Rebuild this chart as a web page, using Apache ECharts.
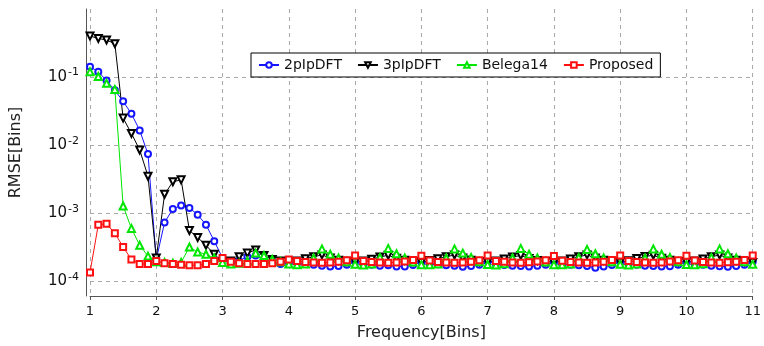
<!DOCTYPE html>
<html style="height: 100%">
<head>
	<meta charset="utf-8">
</head>
<body style="height: 100%; margin: 0; background: #fff">
<div id="container" style="width: 764px; height: 346px"></div>
<script type="text/javascript" src="https://cdn.jsdelivr.net/npm/echarts@6/dist/echarts.min.js"></script>
<script type="text/javascript">
    // frequency grid [bins]
    var freqs = [
        1, 1.125, 1.25, 1.375, 1.5, 1.625, 1.75, 1.875,
        2, 2.125, 2.25, 2.375, 2.5, 2.625, 2.75, 2.875,
        3, 3.125, 3.25, 3.375, 3.5, 3.625, 3.75, 3.875,
        4, 4.125, 4.25, 4.375, 4.5, 4.625, 4.75, 4.875,
        5, 5.125, 5.25, 5.375, 5.5, 5.625, 5.75, 5.875,
        6, 6.125, 6.25, 6.375, 6.5, 6.625, 6.75, 6.875,
        7, 7.125, 7.25, 7.375, 7.5, 7.625, 7.75, 7.875,
        8, 8.125, 8.25, 8.375, 8.5, 8.625, 8.75, 8.875,
        9, 9.125, 9.25, 9.375, 9.5, 9.625, 9.75, 9.875,
        10, 10.125, 10.25, 10.375, 10.5, 10.625, 10.75, 10.875,
        11
    ];

    var rmse2p = [
        0.142, 0.12, 0.089, 0.064, 0.044, 0.029, 0.0165, 0.0074,
        2.1e-4, 7.3e-4, 1.16e-3, 1.3e-3, 1.2e-3, 9.5e-4, 6.8e-4, 3.9e-4,
        2.2e-4, 1.9e-4, 2.0e-4, 2.3e-4, 2.4e-4, 2.1e-4, 1.9e-4, 1.8e-4,
        1.9e-4, 1.85e-4, 1.8e-4, 1.75e-4, 1.7e-4, 1.65e-4, 1.68e-4, 1.75e-4,
        1.95e-4, 1.8e-4, 1.75e-4, 1.7e-4, 1.72e-4, 1.65e-4, 1.66e-4, 1.74e-4,
        1.92e-4, 1.82e-4, 1.78e-4, 1.72e-4, 1.7e-4, 1.64e-4, 1.68e-4, 1.76e-4,
        1.96e-4, 1.8e-4, 1.74e-4, 1.7e-4, 1.68e-4, 1.66e-4, 1.7e-4, 1.75e-4,
        1.93e-4, 1.8e-4, 1.76e-4, 1.72e-4, 1.68e-4, 1.58e-4, 1.66e-4, 1.74e-4,
        1.95e-4, 1.82e-4, 1.75e-4, 1.7e-4, 1.68e-4, 1.65e-4, 1.67e-4, 1.76e-4,
        1.94e-4, 1.8e-4, 1.76e-4, 1.7e-4, 1.67e-4, 1.64e-4, 1.68e-4, 1.75e-4,
        1.95e-4
    ];

    var rmse3p = [
        0.40, 0.37, 0.35, 0.31, 0.025, 0.0149, 0.0085, 0.0035,
        2.2e-4, 0.0019, 0.0029, 0.0031, 5.6e-4, 4.4e-4, 3.4e-4, 2.5e-4,
        1.95e-4, 2.0e-4, 2.3e-4, 2.6e-4, 2.9e-4, 2.4e-4, 2.1e-4, 2.0e-4,
        1.95e-4, 2.0e-4, 2.15e-4, 2.3e-4, 2.45e-4, 2.2e-4, 2.05e-4, 1.98e-4,
        1.92e-4, 2.0e-4, 2.12e-4, 2.28e-4, 2.42e-4, 2.18e-4, 2.04e-4, 1.97e-4,
        1.9e-4, 2.02e-4, 2.15e-4, 2.3e-4, 2.44e-4, 2.2e-4, 2.05e-4, 1.96e-4,
        1.92e-4, 2.0e-4, 2.14e-4, 2.28e-4, 2.4e-4, 2.16e-4, 2.03e-4, 1.97e-4,
        1.9e-4, 2.0e-4, 2.13e-4, 2.3e-4, 2.45e-4, 2.2e-4, 2.05e-4, 1.98e-4,
        1.91e-4, 2.01e-4, 2.16e-4, 2.32e-4, 2.42e-4, 2.18e-4, 2.04e-4, 1.96e-4,
        1.92e-4, 2.0e-4, 2.14e-4, 2.3e-4, 2.44e-4, 2.2e-4, 2.05e-4, 1.97e-4,
        1.9e-4
    ];

    var rmseBelega = [
        0.12, 0.102, 0.081, 0.066, 0.00128, 6.0e-4, 3.4e-4, 2.35e-4,
        1.95e-4, 1.9e-4, 1.85e-4, 1.9e-4, 3.2e-4, 2.7e-4, 2.5e-4, 2.2e-4,
        1.9e-4, 1.8e-4, 1.85e-4, 2.0e-4, 2.6e-4, 2.4e-4, 2.1e-4, 1.95e-4,
        1.8e-4, 1.75e-4, 1.8e-4, 2.2e-4, 3.0e-4, 2.5e-4, 2.2e-4, 1.95e-4,
        1.78e-4, 1.74e-4, 1.8e-4, 2.25e-4, 3.05e-4, 2.55e-4, 2.2e-4, 1.92e-4,
        1.76e-4, 1.75e-4, 1.8e-4, 2.2e-4, 3.0e-4, 2.6e-4, 2.25e-4, 1.95e-4,
        1.77e-4, 1.74e-4, 1.82e-4, 2.2e-4, 3.05e-4, 2.5e-4, 2.2e-4, 1.93e-4,
        1.76e-4, 1.75e-4, 1.8e-4, 2.25e-4, 2.95e-4, 2.55e-4, 2.2e-4, 1.95e-4,
        1.78e-4, 1.74e-4, 1.8e-4, 2.2e-4, 3.0e-4, 2.5e-4, 2.25e-4, 1.94e-4,
        1.77e-4, 1.75e-4, 1.82e-4, 2.25e-4, 3.0e-4, 2.55e-4, 2.2e-4, 1.95e-4,
        1.78e-4
    ];

    var rmseProposed = [
        1.35e-4, 6.8e-4, 7.0e-4, 5.1e-4, 3.2e-4, 2.1e-4, 1.8e-4, 1.8e-4,
        2.0e-4, 1.85e-4, 1.8e-4, 1.75e-4, 1.72e-4, 1.72e-4, 1.8e-4, 2.0e-4,
        2.2e-4, 1.95e-4, 1.85e-4, 1.8e-4, 1.8e-4, 1.8e-4, 1.85e-4, 1.95e-4,
        2.1e-4, 2.0e-4, 1.92e-4, 1.9e-4, 1.88e-4, 1.9e-4, 1.95e-4, 2.05e-4,
        2.4e-4, 2.0e-4, 1.93e-4, 1.9e-4, 1.88e-4, 1.9e-4, 1.96e-4, 2.06e-4,
        2.38e-4, 2.02e-4, 1.92e-4, 1.89e-4, 1.87e-4, 1.9e-4, 1.95e-4, 2.05e-4,
        2.4e-4, 2.0e-4, 1.94e-4, 1.9e-4, 1.88e-4, 1.91e-4, 1.96e-4, 2.04e-4,
        2.36e-4, 2.01e-4, 1.93e-4, 1.89e-4, 1.88e-4, 1.9e-4, 1.95e-4, 2.06e-4,
        2.4e-4, 2.0e-4, 1.92e-4, 1.9e-4, 1.87e-4, 1.9e-4, 1.96e-4, 2.05e-4,
        2.38e-4, 2.02e-4, 1.93e-4, 1.9e-4, 1.88e-4, 1.91e-4, 1.95e-4, 2.06e-4,
        2.4e-4
    ];

    var seriesNames = ['2pIpDFT', '3pIpDFT', 'Belega14', 'Proposed'];

    function pairs(ys) {
        var arr = [];
        for (var i = 0; i < freqs.length; i++) {
            arr.push([freqs[i], ys[i]]);
        }
        return arr;
    }

    var font = 'DejaVu Sans';

    var dom = document.getElementById("container");
    var myChart = echarts.init(dom);
    var option = {
        backgroundColor: '#fff',
        animation: false,
        textStyle: {fontFamily: font},
        grid: {
            left: 86,
            right: 11,
            top: 9,
            bottom: 44
        },
        legend: {
            data: seriesNames,
            left: 251,
            top: 53,
            padding: [5, 7],
            itemGap: 15,
            itemWidth: 20,
            itemHeight: 7,
            borderColor: '#000',
            borderWidth: 1,
            backgroundColor: '#fff',
            textStyle: {fontFamily: font, fontSize: 14, color: '#111'}
        },
        xAxis: {
            type: 'value',
            min: 1,
            max: 11,
            interval: 1,
            name: 'Frequency[Bins]',
            nameLocation: 'middle',
            nameGap: 29,
            nameTextStyle: {fontFamily: font, fontSize: 16, color: '#222'},
            axisLine: {onZero: false, lineStyle: {color: '#555', width: 1}},
            axisTick: {show: true, length: 4, lineStyle: {color: '#555'}},
            axisLabel: {fontFamily: font, fontSize: 13, color: '#111', margin: 9},
            splitLine: {show: true, lineStyle: {color: '#a8a8a8', type: [4, 4], width: 1}}
        },
        yAxis: {
            type: 'log',
            logBase: 10,
            min: 6.1e-5,
            max: 1,
            offset: 4,
            name: 'RMSE[Bins]',
            nameLocation: 'middle',
            nameGap: 62,
            nameRotate: 90,
            nameTextStyle: {fontFamily: font, fontSize: 16, color: '#222'},
            axisLine: {show: true, lineStyle: {color: '#555', width: 1}},
            axisTick: {show: false},
            axisLabel: {
                showMinLabel: false,
                showMaxLabel: false,
                margin: 7,
                fontFamily: font,
                fontSize: 15,
                color: '#111',
                formatter: function (v) {
                    var e = Math.log10(v);
                    var r = Math.round(e);
                    if (Math.abs(e - r) > 1e-6 || r === 0) return '';
                    return '10{s|' + r + '}';
                },
                rich: {
                    s: {fontSize: 11, fontFamily: font, color: '#111', padding: [0, 0, 9, 1]}
                }
            },
            splitLine: {
                show: true,
                showMinLine: false,
                showMaxLine: false,
                lineStyle: {color: '#a8a8a8', type: [4, 4], width: 1}
            }
        },
        series: [
            {
                name: seriesNames[0],
                type: 'line',
                data: pairs(rmse2p),
                symbol: 'emptyCircle',
                symbolSize: 6,
                color: '#1515ff',
                lineStyle: {width: 1}
            },
            {
                name: seriesNames[1],
                type: 'line',
                data: pairs(rmse3p),
                symbol: 'emptyTriangle',
                symbolRotate: 180,
                symbolSize: 7,
                color: '#000',
                lineStyle: {width: 1}
            },
            {
                name: seriesNames[2],
                type: 'line',
                data: pairs(rmseBelega),
                symbol: 'emptyTriangle',
                symbolSize: 7,
                color: '#00e600',
                lineStyle: {width: 1}
            },
            {
                name: seriesNames[3],
                type: 'line',
                data: pairs(rmseProposed),
                symbol: 'emptyRect',
                symbolSize: 6,
                color: '#ff1010',
                lineStyle: {width: 1}
            }
        ]
    };
    myChart.setOption(option);
</script>
</body>
</html>
